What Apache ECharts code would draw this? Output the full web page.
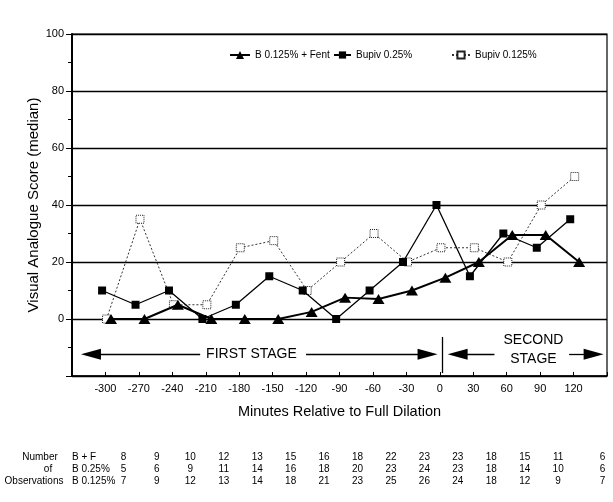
<!DOCTYPE html>
<html>
<head>
<meta charset="utf-8">
<script src="https://cdn.jsdelivr.net/npm/echarts@6/dist/echarts.min.js"></script>
<style>
html,body{margin:0;padding:0;background:#fff;}
#chart{width:613px;height:502px;}
</style>
</head>
<body>
<div id="chart"></div>
<script>
// ---- data ----
const times = [-300, -270, -240, -210, -180, -150, -120, -90, -60, -30, 0, 30, 60, 90, 120];
const seriesNames = ['B 0.125% + Fent', 'Bupiv 0.25%', 'Bupiv 0.125%'];
const bFent    = [0, 0, 5, 0, 0, 0, 2.5, 7.5, 7, 10, 14.5, 20, 29.5, 29.5, 20];
const bupiv025 = [10, 5, 10, 0, 5, 15, 10, 0, 10, 20, 40, 15, 30, 25, 35];
const bupiv0125= [0, 35, 5, 5, 25, 27.5, 10, 20, 30, 20, 25, 25, 20, 40, 50];
const rowHeads = ['Number', 'of', 'Observations'];
const rowLabels = ['B + F', 'B 0.25%', 'B 0.125%'];
const obsBF    = [8, 9, 10, 12, 13, 15, 16, 18, 22, 23, 23, 18, 15, 11, 6];
const obs025   = [5, 6, 9, 11, 14, 16, 18, 20, 23, 24, 23, 18, 14, 10, 6];
const obs0125  = [7, 9, 12, 13, 14, 18, 21, 23, 25, 26, 24, 18, 12, 9, 7];
const yLabels = [0, 20, 40, 60, 80, 100];
const xLabels = times;

// small horizontal jitter (minutes) used in the original to separate overlapping markers
const jitter = { fent: 5, b025: -3, b0125: 1 };

const FONT = '"Liberation Sans", Arial, Helvetica, sans-serif';
const chart = echarts.init(document.getElementById('chart'), null, { renderer: 'canvas' });

function pts(vals, dx) { return times.map((t, i) => [t + dx, vals[i]]); }

const legendText = { fontSize: 10, color: '#000', fontFamily: FONT };
const option = {
  animation: false,
  backgroundColor: '#fff',
  textStyle: { fontFamily: FONT, color: '#000' },
  grid: { left: 72, right: 6, top: 34, bottom: 126, show: true, borderColor: '#000', borderWidth: 1.2, backgroundColor: 'transparent' },
  legend: [
    { data: [seriesNames[0]], left: 224, top: 45, itemWidth: 20, itemHeight: 10, itemGap: 0, textStyle: legendText },
    { data: [seriesNames[1]], left: 328, top: 45, itemWidth: 17, itemHeight: 9, itemGap: 0, textStyle: legendText },
    { data: [seriesNames[2]], left: 446, top: 45, itemWidth: 18, itemHeight: 9, itemGap: 0, textStyle: legendText }
  ],
  xAxis: {
    type: 'value', min: -330, max: 150, interval: 30,
    name: 'Minutes Relative to Full Dilation', nameLocation: 'middle', nameGap: 28,
    nameMoveOverlap: false,
    nameTextStyle: { fontSize: 14.5, color: '#000', fontFamily: FONT },
    axisLine: { show: true, onZero: false, lineStyle: { color: '#000', width: 1.5 } },
    axisTick: { show: true, inside: true, length: 4, lineStyle: { color: '#000', width: 1 } },
    axisLabel: { margin: 7, fontSize: 11, color: '#000', fontFamily: FONT,
      formatter: v => (xLabels.indexOf(v) >= 0 ? String(v) : '') },
    splitLine: { show: false }
  },
  yAxis: {
    type: 'value', min: -20, max: 100, interval: 20,
    name: 'Visual Analogue Score (median)', nameLocation: 'middle', nameGap: 31,
    nameMoveOverlap: false,
    nameTextStyle: { fontSize: 15, color: '#000', fontFamily: FONT },
    axisLine: { show: true, onZero: false, lineStyle: { color: '#000', width: 2 } },
    axisTick: { show: true, inside: false, length: 6, lineStyle: { color: '#000', width: 1 } },
    minorTick: { show: true, splitNumber: 2, length: 4, lineStyle: { color: '#000', width: 1 } },
    axisLabel: { margin: 8, fontSize: 11, color: '#000', fontFamily: FONT,
      formatter: v => (yLabels.indexOf(v) >= 0 ? String(v) : '') },
    splitLine: { show: true, lineStyle: { color: '#000', width: 1.3 } }
  },
  series: [
    {
      name: seriesNames[2], type: 'line', z: 2,
      data: pts(bupiv0125, jitter.b0125),
      symbol: 'rect', symbolSize: 8,
      itemStyle: { color: '#fff', borderColor: '#222', borderWidth: 1, borderType: 'dotted' },
      lineStyle: { color: '#333', width: 1, type: [2, 2] },
      markLine: {
        silent: true, animation: false,
        lineStyle: { color: '#000', width: 1.3, type: 'solid' },
        label: { show: false },
        emphasis: { disabled: true },
        data: [
          [{ coord: [-313, -12.4], symbol: 'triangle', symbolSize: [11, 20] }, { coord: [-215, -12.4], symbol: 'none' }],
          [{ coord: [-120, -12.4], symbol: 'none' }, { coord: [-11, -12.4], symbol: 'triangle', symbolSize: [11, 20] }],
          [{ coord: [16, -12.4], symbol: 'triangle', symbolSize: [11, 20] }, { coord: [49, -12.4], symbol: 'none' }],
          [{ coord: [116, -12.4], symbol: 'none' }, { coord: [138, -12.4], symbol: 'triangle', symbolSize: [11, 20] }],
          [{ coord: [2, -6.3], symbol: 'none' }, { coord: [2, -19], symbol: 'none' }]
        ]
      },
      markPoint: {
        silent: true, animation: false,
        symbol: 'rect', symbolSize: 1,
        itemStyle: { color: 'rgba(0,0,0,0)' },
        label: { show: true, position: 'inside', fontSize: 14, color: '#000', fontFamily: FONT, lineHeight: 19, formatter: p => p.name },
        data: [
          { name: 'FIRST STAGE', coord: [-169, -12.4] },
          { name: 'SECOND\nSTAGE', coord: [84, -10.8] }
        ]
      }
    },
    {
      name: seriesNames[1], type: 'line', z: 3,
      data: pts(bupiv025, jitter.b025),
      symbol: 'rect', symbolSize: 8,
      itemStyle: { color: '#000' },
      lineStyle: { color: '#000', width: 1.3 }
    },
    {
      name: seriesNames[0], type: 'line', z: 4,
      data: pts(bFent, jitter.fent),
      symbol: 'triangle', symbolSize: [12, 10],
      itemStyle: { color: '#000' },
      lineStyle: { color: '#000', width: 2 }
    }
  ]
};
chart.setOption(option);

// observation-count table beneath the chart, columns aligned to the x axis
function buildTable() {
  const rows = [obsBF, obs025, obs0125];
  const rowY = [457, 469, 481];
  const g = [];
  const ts = { fontSize: 10, fill: '#000', fontFamily: FONT, textVerticalAlign: 'middle' };
  const headX = [40, 48, 34];
  rowHeads.forEach((h, r) => g.push({ type: 'text', x: headX[r], y: rowY[r], silent: true,
    style: Object.assign({}, ts, { text: h, textAlign: 'center' }) }));
  rowLabels.forEach((l, r) => g.push({ type: 'text', x: 72, y: rowY[r], silent: true,
    style: Object.assign({}, ts, { text: l, textAlign: 'left' }) }));
  rows.forEach((vals, r) => {
    vals.forEach((v, i) => {
      let px = chart.convertToPixel({ xAxisIndex: 0 }, times[i]) + 18;
      if (i === vals.length - 1) px += 11;
      g.push({ type: 'text', x: px, y: rowY[r], silent: true,
        style: Object.assign({}, ts, { text: String(v), textAlign: 'center' }) });
    });
  });
  chart.setOption({ graphic: g });
}
buildTable();
</script>
</body>
</html>
